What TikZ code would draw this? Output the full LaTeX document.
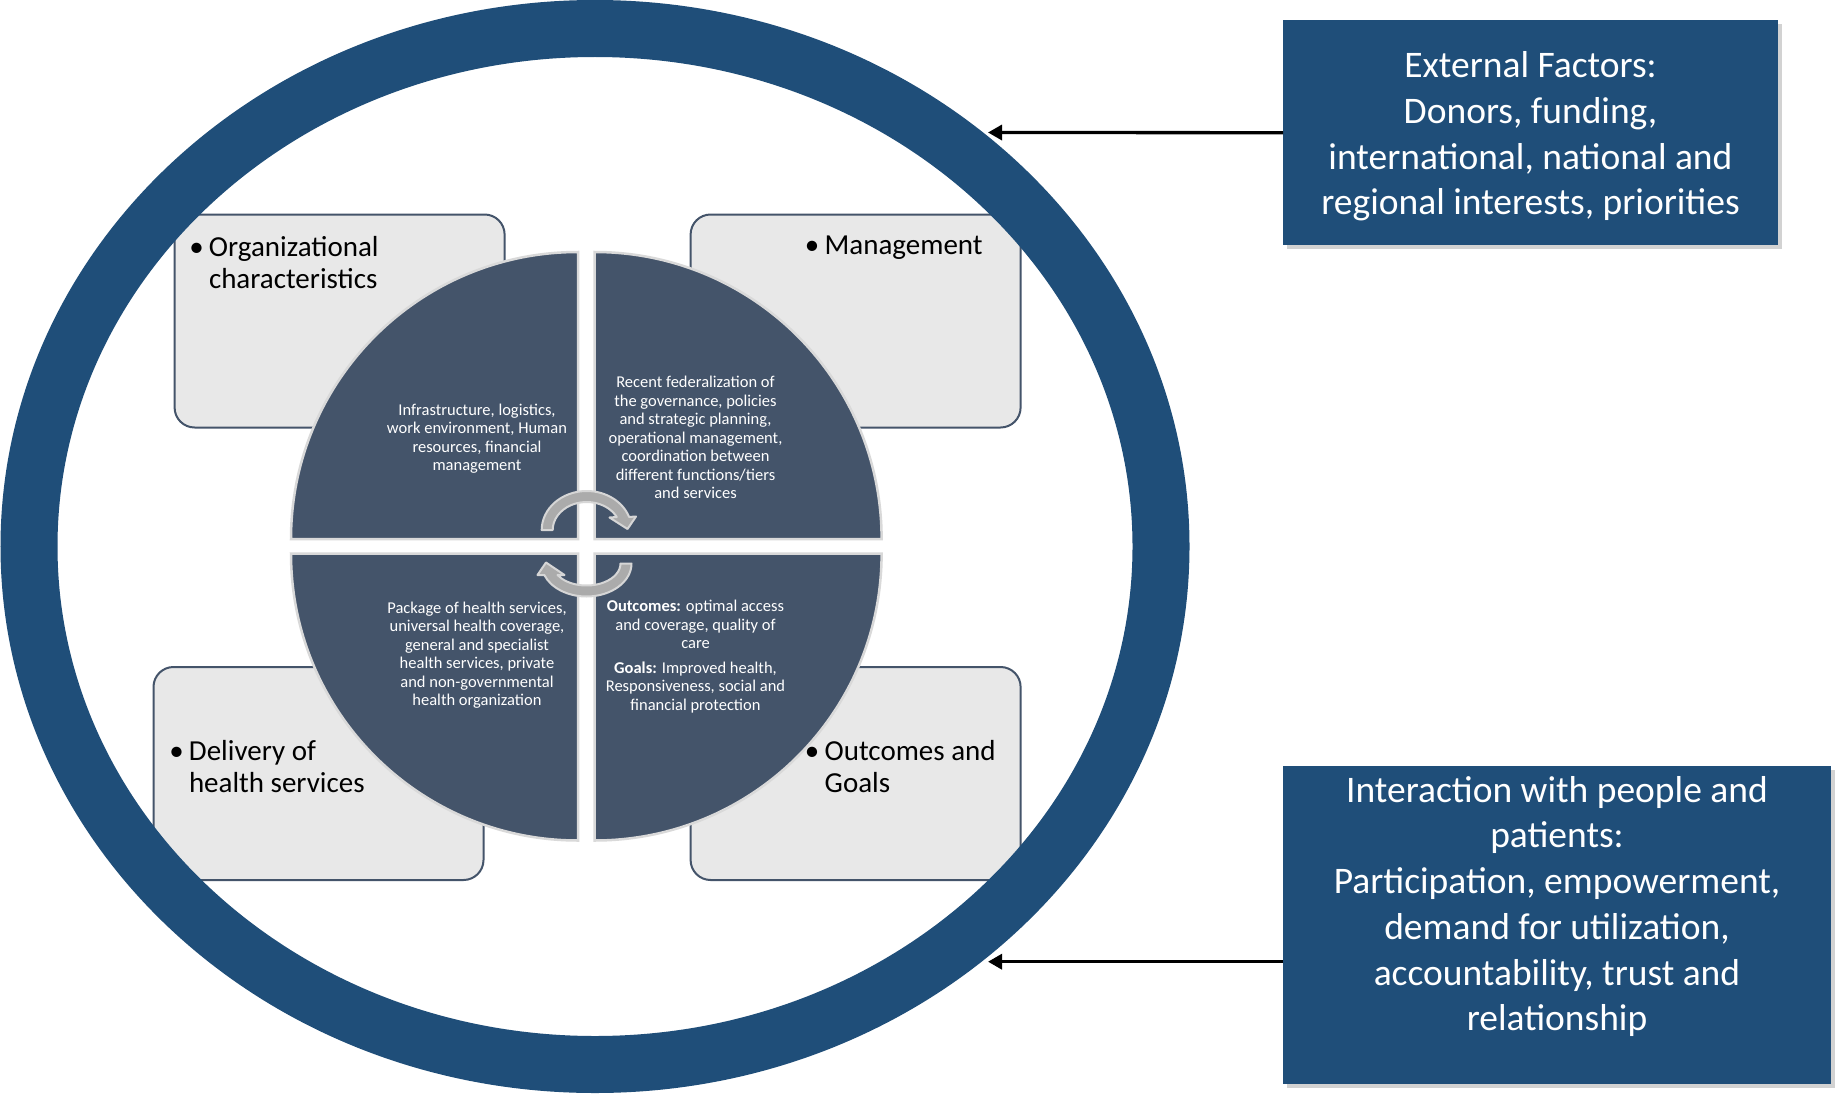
\documentclass[tikz,border=0pt]{standalone}
\usepackage{fontspec}
\setmainfont{Carlito}
\usetikzlibrary{arrows.meta,shadows,calc}
\definecolor{ringblue}{HTML}{1F4E79}
\definecolor{slate}{HTML}{44546A}
\definecolor{lightbox}{HTML}{E8E8E8}
\definecolor{arrowgray}{HTML}{ABABAB}
\definecolor{arrowedge}{HTML}{D6D6D6}
\definecolor{quadedge}{HTML}{D9D9D9}
\begin{document}
\begin{tikzpicture}[x=1pt,y=-1pt,
  outerbox/.style={draw=slate, line width=2pt, fill=lightbox, rounded corners=20pt,
    minimum width=330pt, minimum height=213pt, anchor=north west, inner sep=0pt},
  quad/.style={fill=slate, draw=quadedge, line width=2.5pt},
  quadtext/.style={text=white, align=center, font=\fontsize{16.5}{18.5}\selectfont, inner sep=0pt},
  boxlabel/.style={anchor=base west, inner sep=0pt, font=\fontsize{29}{32.5}\selectfont},
  extbox/.style={fill=ringblue, draw=none, anchor=north west, inner sep=0pt,
    drop shadow={shadow xshift=4pt, shadow yshift=-4pt, opacity=0.35}},
  exttext/.style={text=white, align=center, font=\fontsize{37.5}{45.7}\selectfont, inner sep=0pt},
  ringline/.style={draw=ringblue, line width=57pt},
  cyc/.style={fill=arrowgray, draw=arrowedge, line width=2pt, line join=round},
  conn/.style={draw=black, line width=3.3pt, -{Triangle[length=14pt,width=15pt]}}
]
\fill[white] (0,0) rectangle (1839,1097);
\useasboundingbox (0,0) rectangle (1839,1097);

% light boxes
\node[outerbox] (bOC) at (173.6,213.5) {};
\node[outerbox] (bMG) at (689.6,213.5) {};
\node[outerbox] (bDL) at (152.5,666) {};
\node[outerbox] (bOG) at (689.6,666) {};

\node[boxlabel] (lOC) at (183.8,256) {\begin{tabular}[t]{@{}l@{}l@{}}\makebox[25pt][c]{\textbullet}&Organizational\\&characteristics\end{tabular}};
\node[boxlabel] (lMG) at (799.5,254) {\begin{tabular}[t]{@{}l@{}l@{}}\makebox[25pt][c]{\textbullet}&Management\end{tabular}};
\node[boxlabel] (lDL) at (163.8,760) {\begin{tabular}[t]{@{}l@{}l@{}}\makebox[25pt][c]{\textbullet}&Delivery of\\&health services\end{tabular}};
\node[boxlabel] (lOG) at (799.5,760) {\begin{tabular}[t]{@{}l@{}l@{}}\makebox[25pt][c]{\textbullet}&Outcomes and\\&Goals\end{tabular}};

% pie quadrants
\path[quad] (578,539) -- (291,539) arc[start angle=180, end angle=270, radius=287] -- cycle;
\path[quad] (594.6,539) -- (594.6,252) arc[start angle=270, end angle=360, radius=287] -- cycle;
\path[quad] (594.6,553.5) -- (881.6,553.5) arc[start angle=0, end angle=90, radius=287] -- cycle;
\path[quad] (578,553.5) -- (578,840.5) arc[start angle=90, end angle=180, radius=287] -- cycle;

\node[quadtext] (tTL) at (477,438.5) {Infrastructure, logistics,\\work environment, Human\\resources, financial\\management};
\node[quadtext] (tTR) at (695.5,437.5) {Recent federalization of\\the governance, policies\\and strategic planning,\\operational management,\\coordination between\\different functions/tiers\\and services};
\node[quadtext] (tBL) at (477,655) {Package of health services,\\universal health coverage,\\general and specialist\\health services, private\\and non-governmental\\health organization};
\node[quadtext] (tBR) at (695.5,656.5) {\textbf{Outcomes:} optimal access\\and coverage, quality of\\care\\[6pt]\textbf{Goals:} Improved health,\\Responsiveness, social and\\financial protection};

% circular arrows
\path[cyc] (541.7,530) arc[start angle=180, end angle=340.5, x radius=45, y radius=39]
  -- (636,516.5) -- (627.5,529) -- (609.5,517.5) -- (616.8,517)
  arc[start angle=332.3, end angle=180, x radius=34, y radius=28] -- cycle;
\path[cyc] (631.5,563.5) arc[start angle=0, end angle=159.6, x radius=45, y radius=33]
  -- (537.5,575) -- (546,562.5) -- (564.5,575) -- (557.5,575)
  arc[start angle=148.5, end angle=0, x radius=34, y radius=22] -- cycle;

% outer ring
\draw[ringline] (595,546.5) ellipse[x radius=566, y radius=518];

% external boxes
\node[extbox, minimum width=495pt, minimum height=225pt] (extF) at (1283,20) {};
\node[exttext] (extFt) at (1530.5,136.5) {External Factors:\\Donors, funding,\\international, national and\\regional interests, priorities};
\node[extbox, minimum width=548pt, minimum height=318pt] (extI) at (1283,766) {};
\node[exttext] (extIt) at (1557,906.5) {Interaction with people and\\patients:\\Participation, empowerment,\\demand for utilization,\\accountability, trust and\\relationship};

\coordinate (tipF) at (988,132.5);
\coordinate (tipI) at (988,961.7);
\draw[conn] (extF.west) -- (tipF);
\draw[conn] (extI.west |- tipI) -- (tipI);
\end{tikzpicture}
\end{document}
